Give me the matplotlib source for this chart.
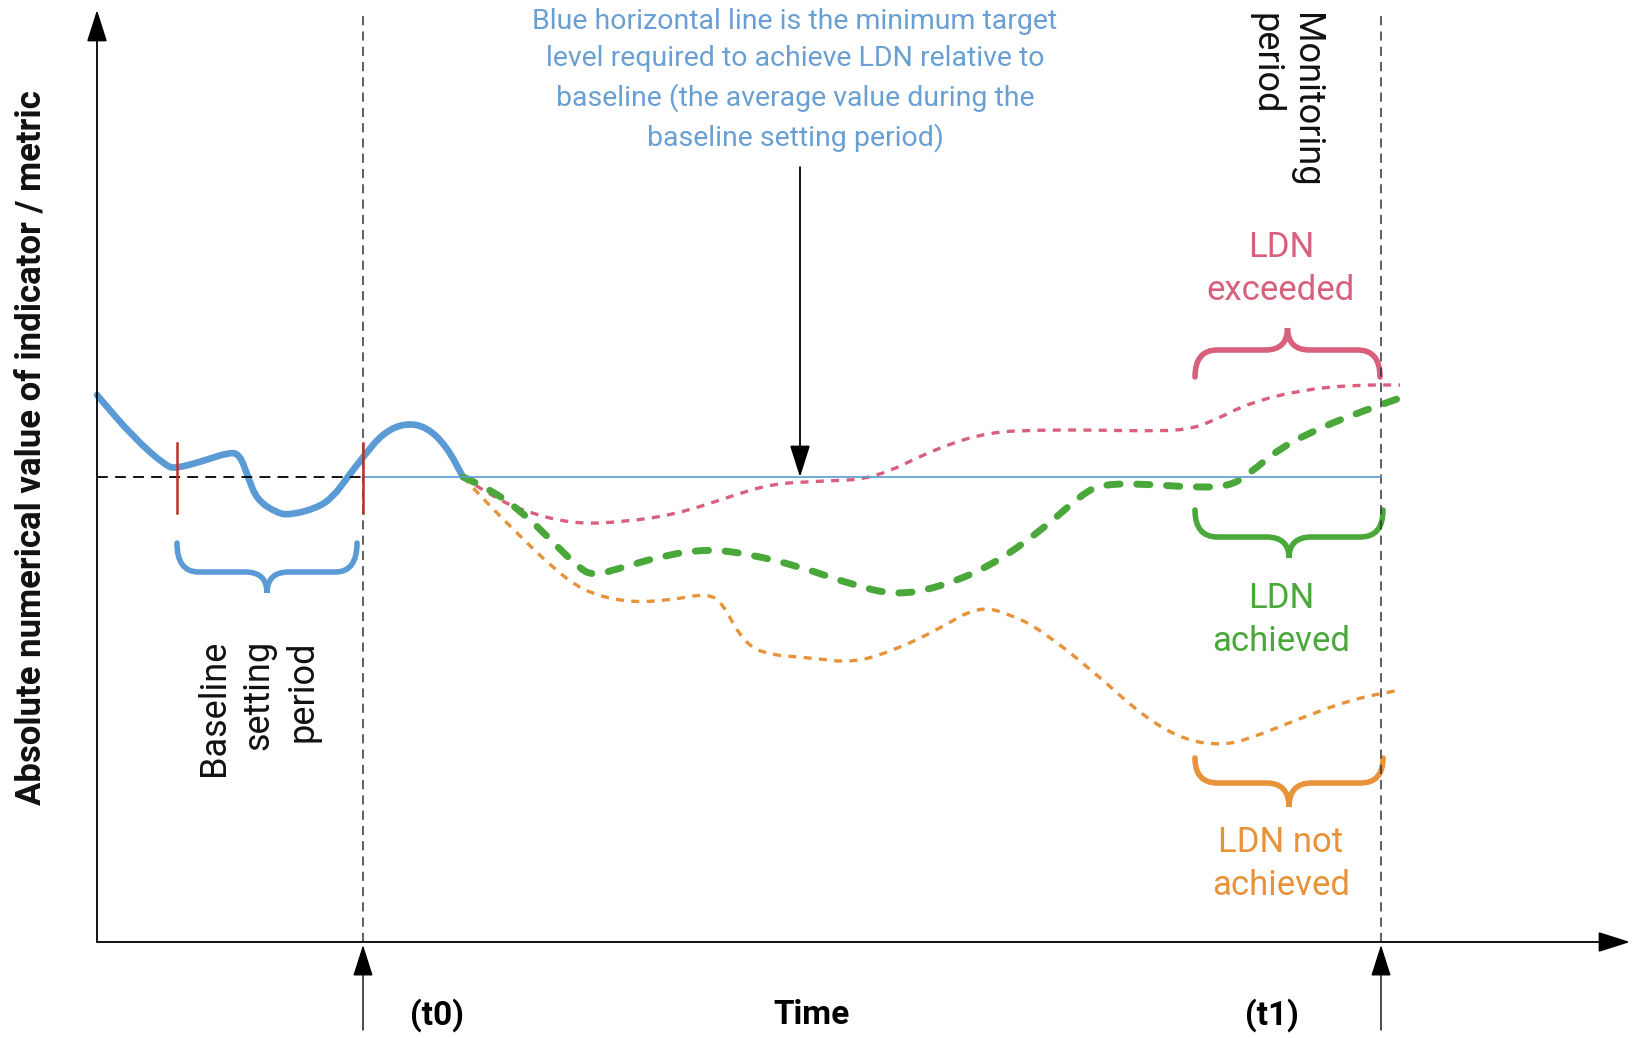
import numpy as np
import matplotlib
matplotlib.use("Agg")
import matplotlib.pyplot as plt
from matplotlib.path import Path
from matplotlib.patches import PathPatch

plt.rcParams['font.family'] = ['Liberation Sans Narrow', 'Roboto', 'DejaVu Sans']

# time / value readings (origin at the axes corner)
blue_t = [0, 36, 70, 80, 103, 133, 143, 151, 160, 180, 193, 220, 236, 250, 266, 286, 308, 330, 350, 366]
blue_v = [547, 505, 475, 474, 480, 490, 487, 465, 442, 429, 427, 434, 445, 464, 485, 509, 519, 515, 495, 465]

pink_t = [366, 392, 423, 475, 527, 580, 632, 673, 725, 777, 840, 892, 944, 996, 1048, 1090, 1116, 1152, 1204, 1256, 1303]
pink_v = [465, 448, 432, 418, 420, 428, 445, 458, 461, 463, 494, 510, 512, 512, 511, 512, 521, 539, 552, 557, 557]

green_t = [366, 392, 423, 455, 481, 496, 527, 569, 611, 652, 704, 756, 798, 840, 892, 944, 985, 1006, 1048, 1090, 1131,
           1152, 1183, 1225, 1266, 1303]
green_v = [465, 453, 432, 401, 375, 366, 375, 387, 393, 388, 375, 357, 347, 354, 375, 411, 448, 458, 458, 455, 455,
           468, 494, 515, 531, 544]

orange_t = [366, 392, 423, 455, 486, 527, 569, 611, 626, 642, 663, 715, 756, 798, 840, 881, 913, 944, 996, 1048, 1090,
            1126, 1152, 1204, 1256, 1303]
orange_v = [465, 437, 406, 375, 351, 340, 341, 349, 338, 307, 288, 284, 279, 292, 312, 336, 328, 312, 271, 224, 201,
            197, 203, 224, 243, 252]

baseline = 465
t0, t1 = 266, 1284
x_end, y_end = 1533, 932

# braces: (t_left, t_right, v_ends, v_body, v_tip)
brace_blue = (80, 260, 399, 370, 349)
brace_pink = (1098, 1283, 565, 592, 614)
brace_green = (1098, 1286, 432, 405, 384)
brace_orange = (1098, 1286, 184, 159, 135)

BLUE = '#5b9bd5'
PINK = '#d9607c'
GREEN = '#4aa83a'
ORANGE = '#e8923a'
RED = '#b83224'


def smooth(ax, t, v, **kw):
    pts = np.column_stack([t, v]).astype(float)
    verts = [pts[0], (pts[0] + pts[1]) / 2]
    codes = [Path.MOVETO, Path.LINETO]
    for i in range(1, len(pts) - 1):
        verts += [pts[i], (pts[i] + pts[i + 1]) / 2]
        codes += [Path.CURVE3, Path.CURVE3]
    verts.append(pts[-1])
    codes.append(Path.LINETO)
    ax.add_patch(PathPatch(Path(verts, codes), fill=False, **kw))


def brace(ax, b, color, lw=4):
    a, c, ve, vb, vt = b
    m = (a + c) / 2
    r = (c - a) * 0.12
    verts = [(a, ve), (a, vb), (a + r, vb), (m - r, vb), (m, vb), (m, vt),
             (m, vb), (m + r, vb), (c - r, vb), (c, vb), (c, ve)]
    codes = [Path.MOVETO, Path.CURVE3, Path.CURVE3, Path.LINETO, Path.CURVE3, Path.CURVE3,
             Path.CURVE3, Path.CURVE3, Path.LINETO, Path.CURVE3, Path.CURVE3]
    ax.add_patch(PathPatch(Path(verts, codes), fill=False, color=color, lw=lw, capstyle='round'))


fig = plt.figure(figsize=(16.32, 10.38), dpi=100)
ax = fig.add_axes([0, 0, 1, 1])
ax.set_xlim(-97, 1535)
ax.set_ylim(-96, 942)
ax.axis('off')

arrow = dict(arrowstyle='-|>,head_length=1.1,head_width=0.35', color='black', lw=1.3, mutation_scale=18,
             shrinkA=0, shrinkB=0)
ax.annotate('', xy=(0, y_end), xytext=(0, 0), arrowprops=arrow)
ax.annotate('', xy=(x_end, 0), xytext=(0, 0), arrowprops=arrow)
for tt in (t0, t1):
    ax.annotate('', xy=(tt, -3), xytext=(tt, -88), arrowprops=dict(arrow, lw=1.0))
    ax.plot([tt, tt], [0, y_end], color='#333333', lw=1.1, ls=(0, (6, 4)))

ax.plot([0, t0], [baseline, baseline], color='black', lw=1.3, ls=(0, (6, 4)))
ax.plot([t0, t1], [baseline, baseline], color=BLUE, lw=1.2)

smooth(ax, blue_t, blue_v, color=BLUE, lw=4.8, capstyle='round', joinstyle='round')
for tt in (80, t0):
    ax.plot([tt, tt], [429, 499], color=RED, lw=1.8)

smooth(ax, pink_t, pink_v, color=PINK, lw=2.4, linestyle=(0, (2.4, 2.2)))
smooth(ax, orange_t, orange_v, color=ORANGE, lw=2.4, linestyle=(0, (2.4, 2.2)))
smooth(ax, green_t, green_v, color=GREEN, lw=5.0, linestyle=(0, (1.9, 2.4)), capstyle='round')

brace(ax, brace_blue, BLUE)
brace(ax, brace_pink, PINK)
brace(ax, brace_green, GREEN)
brace(ax, brace_orange, ORANGE)

ax.annotate('', xy=(703, baseline), xytext=(703, 775), arrowprops=dict(arrow, lw=1.3))
ax.text(698, 862, 'Blue horizontal line is the minimum target\nlevel required to achieve LDN relative to\n'
        'baseline (the average value during the\nbaseline setting period)',
        ha='center', va='center', color='#6a9fd4', fontsize=20.5, linespacing=1.5)

ax.text(-66, 494, 'Absolute numerical value of indicator / metric', rotation=90, ha='center', va='center',
        fontsize=25, fontweight='bold', color='#111111')
ax.text(161, 302, 'Baseline\nsetting\nperiod', rotation=90, ha='center', va='top', multialignment='right',
        fontsize=26, color='#111111', linespacing=1.3)
ax.text(1189, 929, 'Monitoring\nperiod', rotation=-90, ha='center', va='top', multialignment='left',
        fontsize=26, color='#111111', linespacing=1.15)

ax.text(1184, 673, 'LDN\nexceeded', ha='center', va='center', color=PINK, fontsize=25, linespacing=1.4)
ax.text(1184, 322, 'LDN\nachieved', ha='center', va='center', color=GREEN, fontsize=25, linespacing=1.4)
ax.text(1184, 78, 'LDN not\nachieved', ha='center', va='center', color=ORANGE, fontsize=25, linespacing=1.4)

ax.text(340, -73, '(t0)', ha='center', va='center', fontsize=24, fontweight='bold')
ax.text(715, -73, 'Time', ha='center', va='center', fontsize=24, fontweight='bold')
ax.text(1175, -73, '(t1)', ha='center', va='center', fontsize=24, fontweight='bold')

fig.savefig('out.png', dpi=100, facecolor='white')
